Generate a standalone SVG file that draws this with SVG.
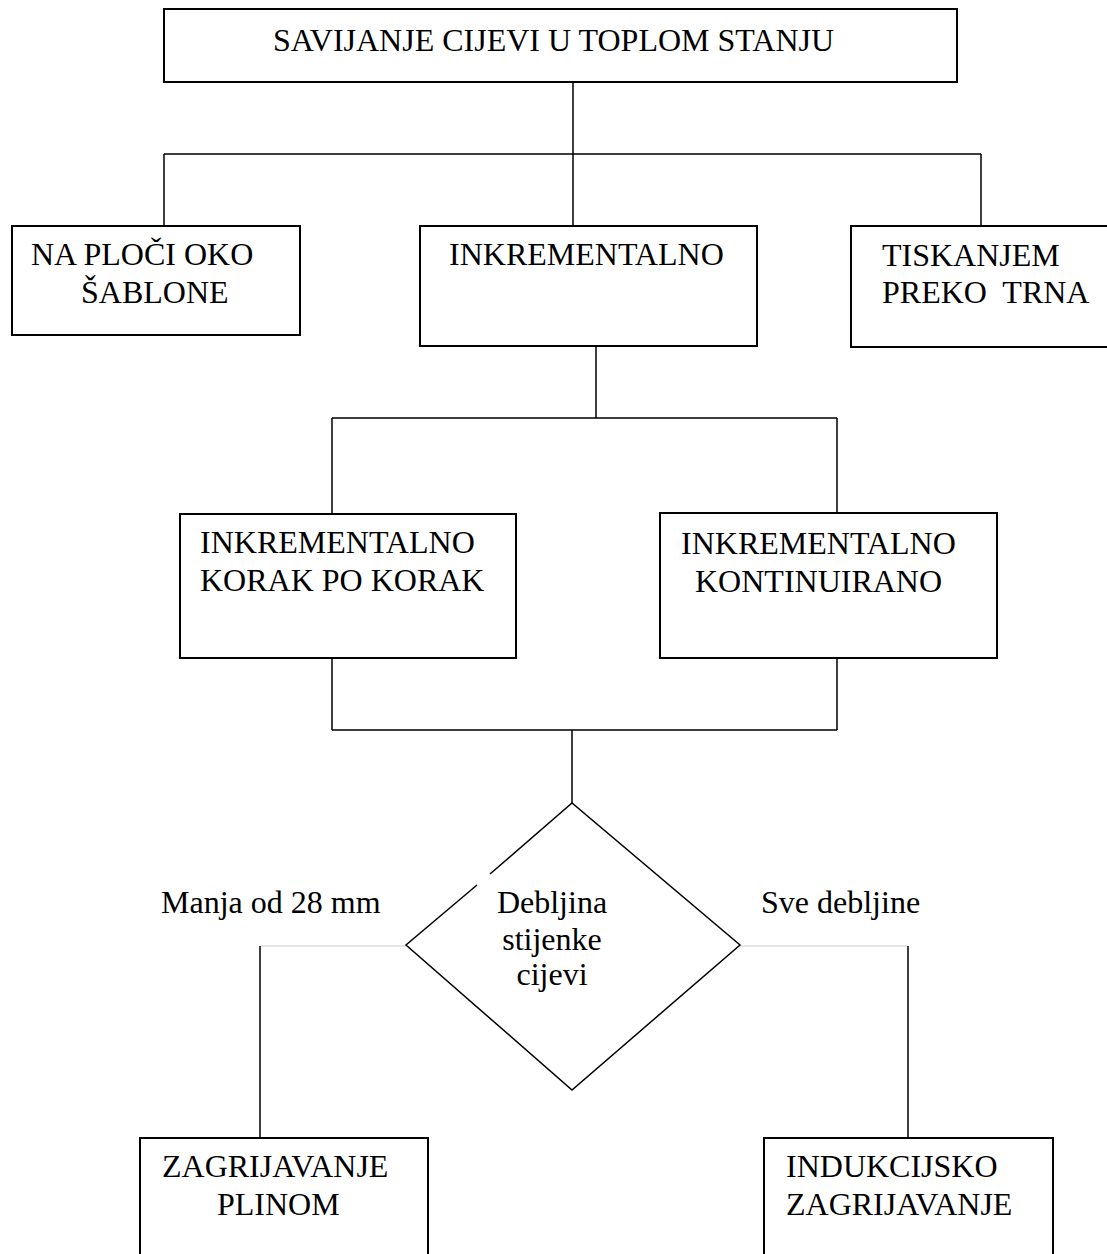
<svg xmlns="http://www.w3.org/2000/svg" width="1107" height="1254" viewBox="0 0 1107 1254">
<style>
.box{fill:#fff;stroke:#000;stroke-width:2}
.ln{fill:none;stroke:#000;stroke-width:1.5}
.gl{fill:none;stroke:#c8c8c8;stroke-width:1}
text{font-family:"Liberation Serif","Times New Roman",serif;font-size:32px;fill:#000}
</style>
<rect width="1107" height="1254" fill="#fff"/>
<g id="connectors">
<path class="ln" d="M573 82V154M164 154H981M164 154V226M573 154V226M981 154V226"/>
<path class="ln" d="M596 346V418M332 418H837M332 418V514M837 418V513"/>
<path class="ln" d="M332 658V730M837 658V730M332 730H837M572 730V803"/>
<path class="gl" d="M260 946H406M740 946H908"/>
<path class="ln" d="M260 946V1138M908 946V1138"/>
<text x="161" y="913">Manja od 28 mm</text>
<text x="761" y="913">Sve debljine</text>
</g>
<g id="n-top">
<rect class="box" x="164" y="9" width="793" height="73"/>
<text x="273" y="51">SAVIJANJE CIJEVI U TOPLOM STANJU</text>
</g>
<g id="n-ploca">
<rect class="box" x="12" y="226" width="288" height="109"/>
<text x="31" y="265">NA PLOČI OKO</text>
<text x="81" y="303">ŠABLONE</text>
</g>
<g id="n-inkrementalno">
<rect class="box" x="420" y="226" width="337" height="120"/>
<text x="449" y="265">INKREMENTALNO</text>
</g>
<g id="n-tiskanjem">
<rect class="box" x="851" y="226" width="260" height="121"/>
<text x="882" y="266">TISKANJEM</text>
<text x="882" y="303" xml:space="preserve">PREKO  TRNA</text>
</g>
<g id="n-korak">
<rect class="box" x="180" y="514" width="336" height="144"/>
<text x="200" y="553">INKREMENTALNO</text>
<text x="200" y="591">KORAK PO KORAK</text>
</g>
<g id="n-kontinuirano">
<rect class="box" x="660" y="513" width="337" height="145"/>
<text x="681" y="554">INKREMENTALNO</text>
<text x="695" y="592">KONTINUIRANO</text>
</g>
<g id="n-debljina">
<path class="ln" d="M490 874L572 803L740 945L572 1090L406 945L477 885"/>
<text x="552" y="913" text-anchor="middle">Debljina</text>
<text x="552" y="950" text-anchor="middle">stijenke</text>
<text x="552" y="985" text-anchor="middle">cijevi</text>
</g>
<g id="n-plinom">
<rect class="box" x="140" y="1138" width="288" height="130"/>
<text x="162" y="1177">ZAGRIJAVANJE</text>
<text x="217" y="1215">PLINOM</text>
</g>
<g id="n-indukcijsko">
<rect class="box" x="764" y="1138" width="289" height="130"/>
<text x="786" y="1177">INDUKCIJSKO</text>
<text x="786" y="1215">ZAGRIJAVANJE</text>
</g>
</svg>
